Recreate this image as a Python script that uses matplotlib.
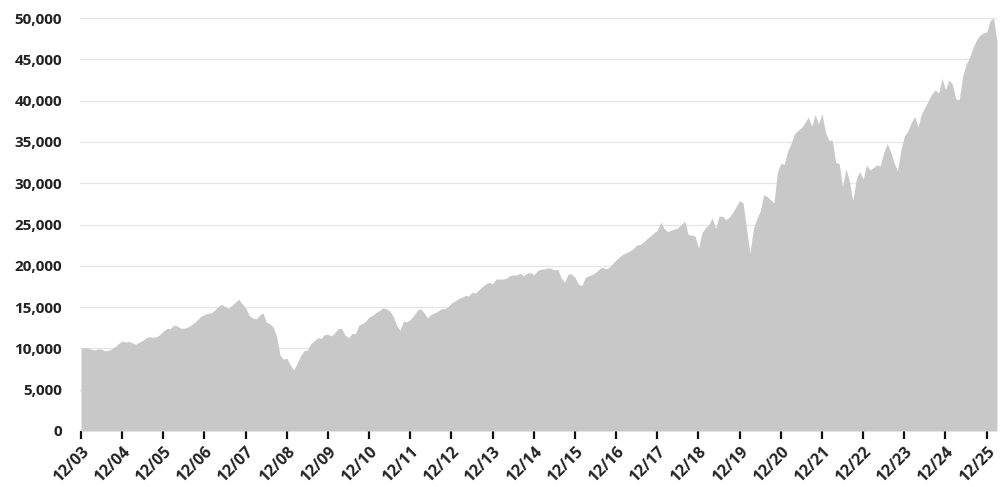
import matplotlib
matplotlib.use("Agg")
import matplotlib.pyplot as plt
from matplotlib.ticker import FuncFormatter

# Month-end values (in $ thousands), 12/03 onward
vals_03_08 = [10.0, 10.1, 10.05, 9.9, 9.8, 9.95, 9.9, 9.7, 9.75, 9.95, 10.25, 10.6,
              10.9, 10.75, 10.85, 10.65, 10.5, 10.75, 10.95, 11.3, 11.4, 11.35, 11.4, 11.7,
              12.1, 12.4, 12.4, 12.8, 12.75, 12.45, 12.45, 12.55, 12.8, 13.1, 13.5, 13.9,
              14.1, 14.25, 14.3, 14.65, 15.1, 15.35, 15.05, 14.85, 15.2, 15.6, 15.95, 15.4,
              14.9, 14.0, 13.7, 13.55, 14.0, 14.3, 13.2, 13.0, 12.6, 11.5, 9.2, 8.7]
vals_08_13 = [8.8, 8.0, 7.4, 8.2, 9.1, 9.7, 9.8, 10.6, 10.9, 11.3, 11.2, 11.7,
              11.7, 11.5, 11.9, 12.4, 12.4, 11.6, 11.3, 11.8, 11.8, 12.8, 13.0, 13.3,
              13.8, 14.0, 14.35, 14.6, 14.9, 14.8, 14.5, 13.9, 12.8, 12.2, 13.3, 13.2,
              13.5, 14.0, 14.6, 14.8, 14.3, 13.7, 14.1, 14.3, 14.5, 14.8, 14.8, 15.05,
              15.5, 15.75, 16.0, 16.2, 16.4, 16.35, 16.8, 16.7, 17.1, 17.5, 17.8, 18.0]
vals_13_18 = [17.8, 18.4, 18.4, 18.4, 18.5, 18.8, 18.9, 18.9, 19.1, 18.8, 19.1, 19.2,
              18.9, 19.4, 19.6, 19.6, 19.75, 19.7, 19.5, 19.6, 18.5, 18.0, 19.0, 19.0,
              18.6, 17.8, 17.6, 18.6, 18.8, 18.95, 19.2, 19.6, 19.8, 19.65, 19.8, 20.3,
              20.7, 21.1, 21.4, 21.6, 21.8, 22.1, 22.5, 22.6, 22.9, 23.3, 23.6, 24.0,
              24.3, 25.3, 24.5, 24.15, 24.3, 24.45, 24.6, 25.0, 25.4, 23.8, 23.7, 23.6]
vals_18_23 = [22.1, 24.0, 24.6, 25.0, 25.8, 24.5, 26.0, 26.0, 25.6, 25.9, 26.5, 27.2,
              27.9, 27.6, 24.5, 21.5, 24.5, 25.7, 26.6, 28.6, 28.4, 28.0, 27.6, 31.3,
              32.4, 32.3, 33.9, 34.8, 36.0, 36.4, 36.7, 37.3, 38.0, 36.9, 38.3, 37.2,
              38.4, 36.2, 35.2, 35.2, 32.5, 32.4, 29.6, 31.8, 30.2, 27.9, 30.5, 31.4,
              30.5, 32.2, 31.6, 31.9, 32.2, 32.1, 33.7, 34.8, 33.8, 32.5, 31.5, 34.0]
vals_23_26 = [35.7, 36.3, 37.3, 38.1, 36.8, 38.4, 39.2, 40.0, 40.8, 41.3, 40.9, 42.7,
              41.3, 42.5, 42.0, 40.2, 40.1, 42.9, 44.4, 45.2, 46.4, 47.3, 47.9, 48.2,
              48.3, 49.7, 50.0, 47.2]

values = [v * 1000 for v in vals_03_08 + vals_08_13 + vals_13_18 + vals_18_23 + vals_23_26]
months = list(range(len(values)))

tick_labels = ["12/%02d" % y for y in range(3, 26)]
tick_pos = [12 * i for i in range(len(tick_labels))]

plt.rcParams["font.family"] = ["Open Sans", "DejaVu Sans"]

fig = plt.figure(figsize=(10.07, 4.87), dpi=100)
ax = fig.add_axes([0.0794, 0.115, 0.9106, 0.848])

ax.fill_between(months, values, 0, color="#c8c8c8", linewidth=0, zorder=2)

ax.set_xlim(-0.3, len(values) - 1)
ax.set_ylim(0, 50000)
ax.set_yticks(range(0, 50001, 5000))
ax.yaxis.set_major_formatter(FuncFormatter(lambda v, p: "{:,.0f}".format(v)))
ax.grid(axis="y", color="#e6e6e6", linewidth=1, zorder=0)
ax.set_axisbelow(True)

ax.set_xticks(tick_pos)
ax.set_xticklabels(tick_labels, rotation=45, ha="right", rotation_mode="anchor")

for s in ax.spines.values():
    s.set_visible(False)

ax.tick_params(axis="y", length=0, pad=13, labelsize=11, labelcolor="#222222")
ax.tick_params(axis="x", length=6, width=1.6, color="#111111", pad=3,
               labelsize=11.5, labelcolor="#222222")
for lbl in ax.get_xticklabels() + ax.get_yticklabels():
    lbl.set_fontweight("bold")

fig.savefig("out.png", dpi=100)
